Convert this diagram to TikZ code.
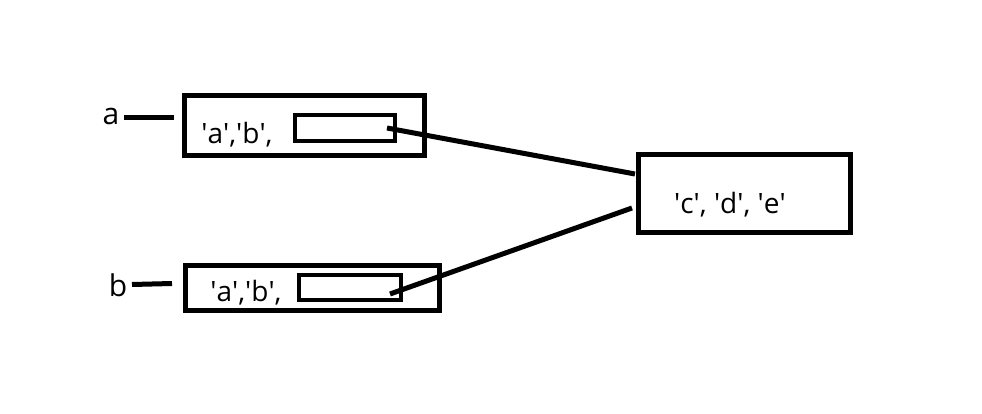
\documentclass[tikz,border=0pt]{standalone}
\usepackage{fontspec}
\setmainfont{Open Sans}
\usetikzlibrary{arrows}
\newcommand{\q}{\textquotesingle}

\begin{document}
\begin{tikzpicture}[x=1pt,y=-1pt]
\tikzstyle{outer} = [rectangle, draw=black, line width=5pt, inner sep=0pt]
\tikzstyle{cell} = [rectangle, draw=black, line width=4.5pt, inner sep=0pt]
\tikzstyle{edge} = [draw=black, line width=5pt]
\tikzstyle{val} = [font=\fontsize{28}{28}\selectfont, inner sep=0pt, anchor=base]
\tikzstyle{var} = [font=\fontsize{30}{30}\selectfont, inner sep=0pt, anchor=base]

\useasboundingbox (0,0) rectangle (982,414);

\node[outer, minimum width=240pt, minimum height=60pt] (A) at (304.5,125.5) {};
\node[cell, minimum width=100pt, minimum height=26pt] (Ap) at (345,128) {};
\node[val] (Av) at (237,144) {\q a\q,\q b\q,};
\node[var] (a) at (111,125) {a};

\node[outer, minimum width=254pt, minimum height=45pt] (B) at (312.5,288) {};
\node[cell, minimum width=102pt, minimum height=25pt] (Bp) at (350,287.5) {};
\node[val] (Bv) at (246,301) {\q a\q,\q b\q,};
\node[var] (b) at (118,296) {b};

\node[outer, minimum width=212pt, minimum height=78pt] (C) at (744.5,193.5) {};
\node[val] (Cv) at (730,213) {\q c\q, \q d\q, \q e\q};

\coordinate (a1) at (124,118);
\coordinate (a2) at (174,118);
\coordinate (b1) at (132,284.5);
\coordinate (b2) at (172,283.5);
\coordinate (Ap1) at (387,128);
\coordinate (Bp1) at (390,294);
\coordinate (C1) at (635,174);
\coordinate (C2) at (632,208);

\draw[edge] (a1) -- (a2);
\draw[edge] (b1) -- (b2);
\draw[edge] (Ap1) -- (C1);
\draw[edge] (Bp1) -- (C2);
\end{tikzpicture}
\end{document}
